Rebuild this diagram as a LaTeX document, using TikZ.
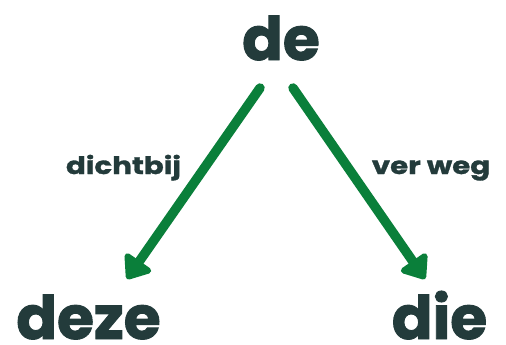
\documentclass[tikz,border=0pt]{standalone}
\usepackage{fontspec}
\setmainfont{Poppins}[BoldFont={* Bold}]
\newfontfamily\labelfont{Poppins Bold}[FakeStretch=1.22,FakeBold=1.2]
\newfontfamily\wordfont{Poppins Bold}[FakeBold=1.6]
\usetikzlibrary{arrows.meta}
\definecolor{ink}{HTML}{233B3B}
\definecolor{leaf}{HTML}{0A7F3A}
\begin{document}
\begin{tikzpicture}[x=1pt,y=-1pt,
  bigword/.style={text=ink,font=\fontsize{60}{60}\wordfont,inner sep=0pt,anchor=base},
  smallword/.style={text=ink,font=\fontsize{24}{24}\labelfont,inner sep=0pt,anchor=base},
  pointer/.style={draw=leaf,line width=9.5pt,line cap=round,
    -{Triangle[length=24pt,width=36pt,round]}}]
\useasboundingbox (0,0) rectangle (506,345);
\node[bigword] (de) at (281,60) {de};
\node[bigword] (deze) at (88.5,339) {deze};
\node[bigword] (die) at (439.5,339) {die};
\node[smallword] (near) at (123.5,174) {dichtbij};
\node[smallword] (far) at (431,174) {ver weg};
\coordinate (ls) at (260,88);
\coordinate (lt) at (127,279);
\coordinate (rs) at (293,88);
\coordinate (rt) at (425,279);
\draw[pointer] (ls) -- (lt);
\draw[pointer] (rs) -- (rt);
\end{tikzpicture}
\end{document}
